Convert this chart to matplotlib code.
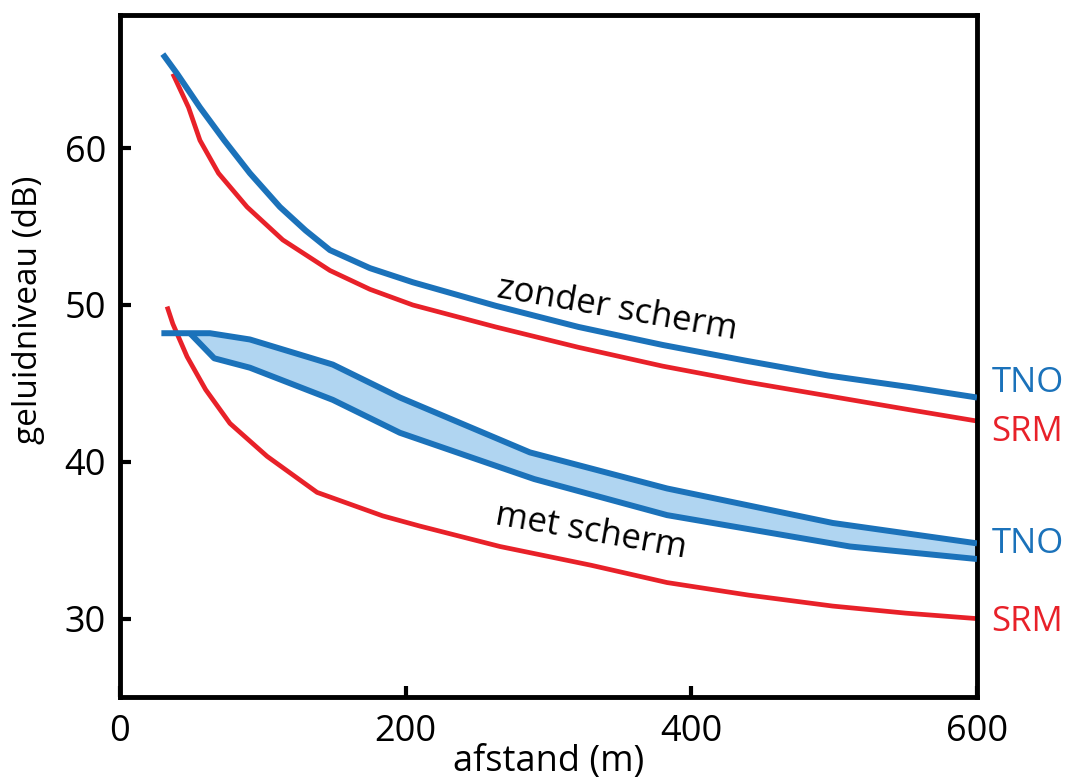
import matplotlib
matplotlib.use("Agg")
import matplotlib.pyplot as plt
import numpy as np

# ── data ──────────────────────────────────────────────────────────────────────
tno_zonder_x = [30, 40, 56, 73, 91, 112, 130, 147, 175, 205, 263, 321, 380, 438, 496, 554, 600]
tno_zonder_y = [66.0, 64.75, 62.6, 60.5, 58.4, 56.25, 54.75, 53.5, 52.35, 51.45, 49.95, 48.6, 47.45, 46.45, 45.5, 44.75, 44.1]

srm_zonder_x = [37, 48, 56, 69, 89, 114, 147, 175, 205, 263, 321, 380, 438, 496, 554, 600]
srm_zonder_y = [64.75, 62.6, 60.5, 58.4, 56.25, 54.15, 52.2, 51.0, 50.0, 48.6, 47.3, 46.1, 45.1, 44.2, 43.3, 42.6]

srm_met_x = [33, 37, 47, 60, 77, 103, 138, 184, 210, 266, 330, 383, 440, 499, 550, 600]
srm_met_y = [49.9, 48.8, 46.7, 44.6, 42.45, 40.35, 38.05, 36.55, 35.9, 34.6, 33.4, 32.3, 31.5, 30.8, 30.35, 30.0]

tno_met_hi_x = [29, 63, 91, 149, 196, 287, 383, 499, 600]
tno_met_hi_y = [48.2, 48.2, 47.8, 46.2, 44.1, 40.6, 38.3, 36.1, 34.8]

tno_met_lo_x = [49, 66, 91, 149, 196, 290, 383, 511, 600]
tno_met_lo_y = [48.2, 46.6, 46.0, 43.95, 41.85, 38.9, 36.6, 34.6, 33.8]

xticks = [0, 200, 400, 600]
yticks = [30, 40, 50, 60]

BLUE = "#1b72ba"
RED = "#e82129"
FILL = "#b0d5f1"

plt.rcParams["font.family"] = ["Open Sans", "DejaVu Sans"]

fig = plt.figure(figsize=(10.73, 7.83), dpi=100)
ax = fig.add_axes([0.1118, 0.1098, 0.7987, 0.8712])

# band between the two TNO "met scherm" lines
band_x = np.concatenate([tno_met_hi_x[1:], tno_met_lo_x[::-1]])
band_y = np.concatenate([tno_met_hi_y[1:], tno_met_lo_y[::-1]])
ax.fill(band_x, band_y, color=FILL, lw=0, zorder=1)

line_kw = dict(solid_capstyle="butt", solid_joinstyle="round")
ax.plot(srm_zonder_x, srm_zonder_y, color=RED, lw=3.4, zorder=2, **line_kw)
ax.plot(tno_zonder_x, tno_zonder_y, color=BLUE, lw=4.3, zorder=3, **line_kw)
ax.plot(srm_met_x, srm_met_y, color=RED, lw=3.4, zorder=2, **line_kw)
ax.plot(tno_met_hi_x, tno_met_hi_y, color=BLUE, lw=4.3, zorder=3, **line_kw)
ax.plot(tno_met_lo_x, tno_met_lo_y, color=BLUE, lw=4.3, zorder=3, **line_kw)

ax.set_xlim(0, 600)
ax.set_ylim(25, 68.5)
ax.set_xticks(xticks)
ax.set_yticks(yticks)
for s in ax.spines.values():
    s.set_linewidth(3.5)
ax.tick_params(direction="in", length=8, width=3, labelsize=26)
ax.tick_params(axis="x", pad=12)
ax.tick_params(axis="y", pad=10)

ax.set_xlabel("afstand (m)", fontsize=26, labelpad=-4)
ax.set_ylabel("geluidniveau (dB)", fontsize=24)
ax.yaxis.set_label_coords(-0.088, 0.567)

ax.text(348, 49.7, "zonder scherm", fontsize=25, rotation=-10,
        ha="center", va="center")
ax.text(330, 35.5, "met scherm", fontsize=25, rotation=-10,
        ha="center", va="center")

# right-hand model labels
side_labels = [(45.05, "TNO", BLUE), (41.9, "SRM", RED),
               (34.75, "TNO", BLUE), (29.8, "SRM", RED)]
for yv, txt, c in side_labels:
    ax.text(1.017, yv, txt, color=c, fontsize=25,
            transform=ax.get_yaxis_transform(), ha="left", va="center")

fig.savefig("out.png", dpi=100)
